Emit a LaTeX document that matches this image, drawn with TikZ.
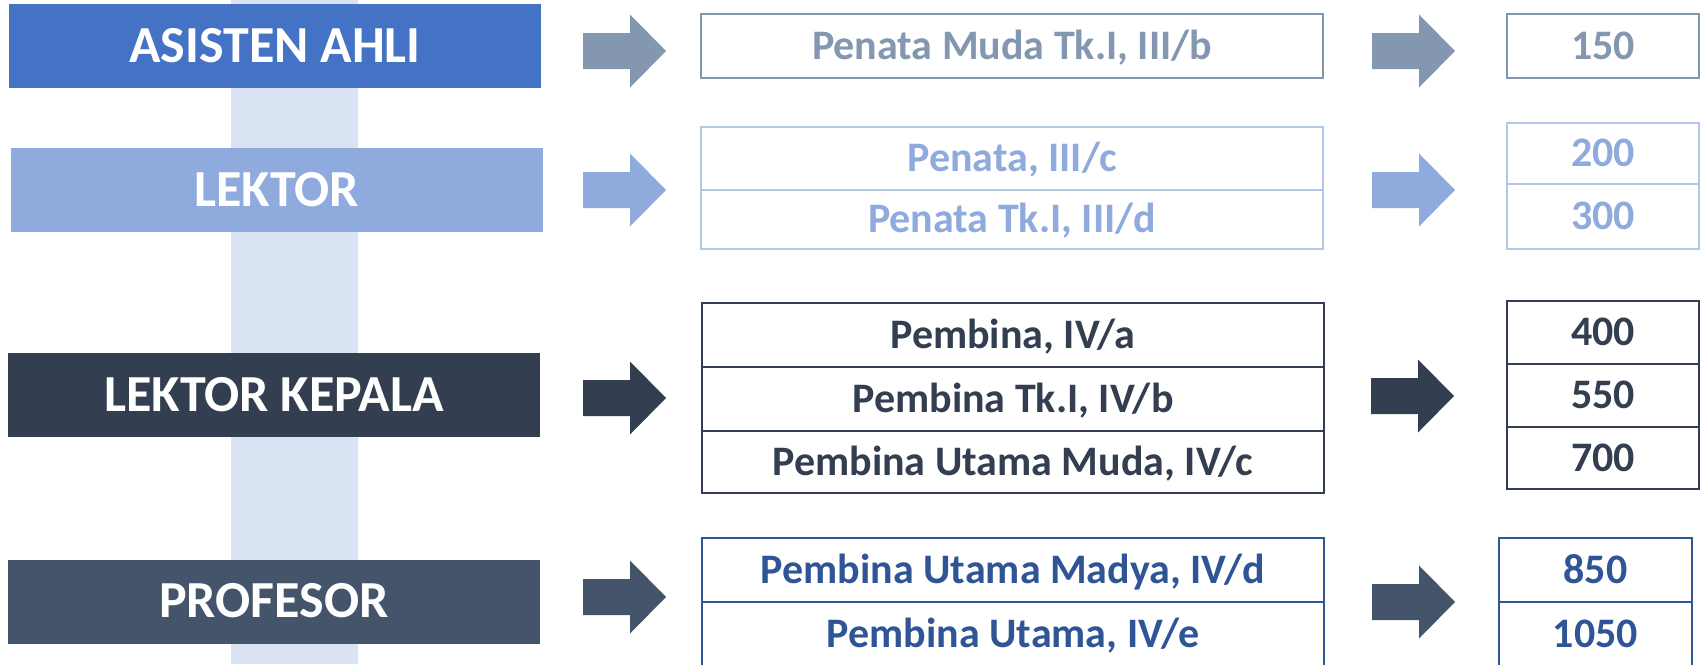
\documentclass[tikz,border=0pt]{standalone}
\usepackage{fontspec}
\setmainfont{Carlito}
\definecolor{cAsis}{HTML}{4472C4}
\definecolor{cLek}{HTML}{8FAADC}
\definecolor{cLK}{HTML}{333F50}
\definecolor{cProf}{HTML}{44546A}
\definecolor{cBand}{HTML}{DAE3F3}
\definecolor{cGray}{HTML}{8497B0}
\definecolor{cLekLine}{HTML}{B4C7E7}
\definecolor{cMadya}{HTML}{2F5597}
\newcommand\myarrow[3]{\fill[#1] ({#2},{#3-18}) -- ({#2+47},{#3-18}) -- ({#2+47},{#3-36.5}) -- ({#2+83},{#3}) -- ({#2+47},{#3+36.5}) -- ({#2+47},{#3+18}) -- ({#2},{#3+18}) -- cycle;}
\begin{document}
\begin{tikzpicture}[x=0.5pt,y=-0.5pt,
  lbl/.style={fill=#1, draw=none, text=white, font=\bfseries\fontsize{26}{30}\selectfont, inner sep=0pt, text height=16.2pt, text depth=0pt, minimum width=266pt, minimum height=42pt, anchor=center},
  cell/.style={draw=#1, fill=white, line width=1.3pt, inner sep=0pt, text height=13pt, text depth=0pt, font=\bfseries\fontsize{21}{25}\selectfont, anchor=center},
  mid/.style={cell=#1, minimum width=311pt},
  num/.style={cell=#1, minimum width=96pt}]
\useasboundingbox (0,0) rectangle (1701,664);
\begin{scope}
\clip (0,0) rectangle (1701,664);
% band
\fill[cBand] (231,0) rectangle (358,664);
% left labels
\node[lbl=cAsis] (asis) at (275,46) {ASISTEN AHLI};
\node[lbl=cLek] (lek) at (276.5,190) {LEKTOR};
\node[lbl=cLK] (lk) at (274,395) {LEKTOR KEPALA};
\node[lbl=cProf] (prof) at (274,601.5) {PROFESOR};
% left arrows
\myarrow{cGray}{583}{51}
\myarrow{cLek}{583}{190}
\myarrow{cLK}{583}{398}
\myarrow{cProf}{583}{597}
% right arrows
\myarrow{cGray}{1372}{51}
\myarrow{cLek}{1372}{190}
\myarrow{cLK}{1371}{396}
\myarrow{cProf}{1372}{602}
% middle cells
\node[mid=cGray, text=cGray, minimum height=32pt] (m1) at (1012,46) {Penata Muda Tk.I, III/b};
\node[mid=cLekLine, text=cLek, minimum height=31.5pt] (m2) at (1012,158.5) {Penata, III/c};
\node[mid=cLekLine, text=cLek, minimum height=29.5pt] (m3) at (1012,219.5) {Penata Tk.I, III/d};
\node[mid=cLK, text=cLK, minimum height=32pt] (m4) at (1013,335) {Pembina, IV/a};
\node[mid=cLK, text=cLK, minimum height=32pt] (m5) at (1013,399) {Pembina Tk.I, IV/b};
\node[mid=cLK, text=cLK, minimum height=31pt] (m6) at (1013,462) {Pembina Utama Muda, IV/c};
\node[mid=cMadya, text=cMadya, minimum height=32pt] (m7) at (1013,570) {Pembina Utama Madya, IV/d};
\node[mid=cMadya, text=cMadya, minimum height=32pt] (m8) at (1013,634) {Pembina Utama, IV/e};
% number cells
\node[num=cGray, text=cGray, minimum height=32pt] (n1) at (1603,46) {150};
\node[num=cLekLine, text=cLek, minimum height=30.5pt] (n2) at (1603,153.5) {200};
\node[num=cLekLine, text=cLek, minimum height=32.5pt] (n3) at (1603,216.5) {300};
\node[num=cLK, text=cLK, minimum height=31.5pt] (n4) at (1603,332.5) {400};
\node[num=cLK, text=cLK, minimum height=31.5pt] (n5) at (1603,395.5) {550};
\node[num=cLK, text=cLK, minimum height=31pt] (n6) at (1603,458) {700};
\node[num=cMadya, text=cMadya, minimum width=96.5pt, minimum height=32pt] (n7) at (1595.5,570) {850};
\node[num=cMadya, text=cMadya, minimum width=96.5pt, minimum height=32pt] (n8) at (1595.5,634) {1050};
\end{scope}
\end{tikzpicture}
\end{document}
